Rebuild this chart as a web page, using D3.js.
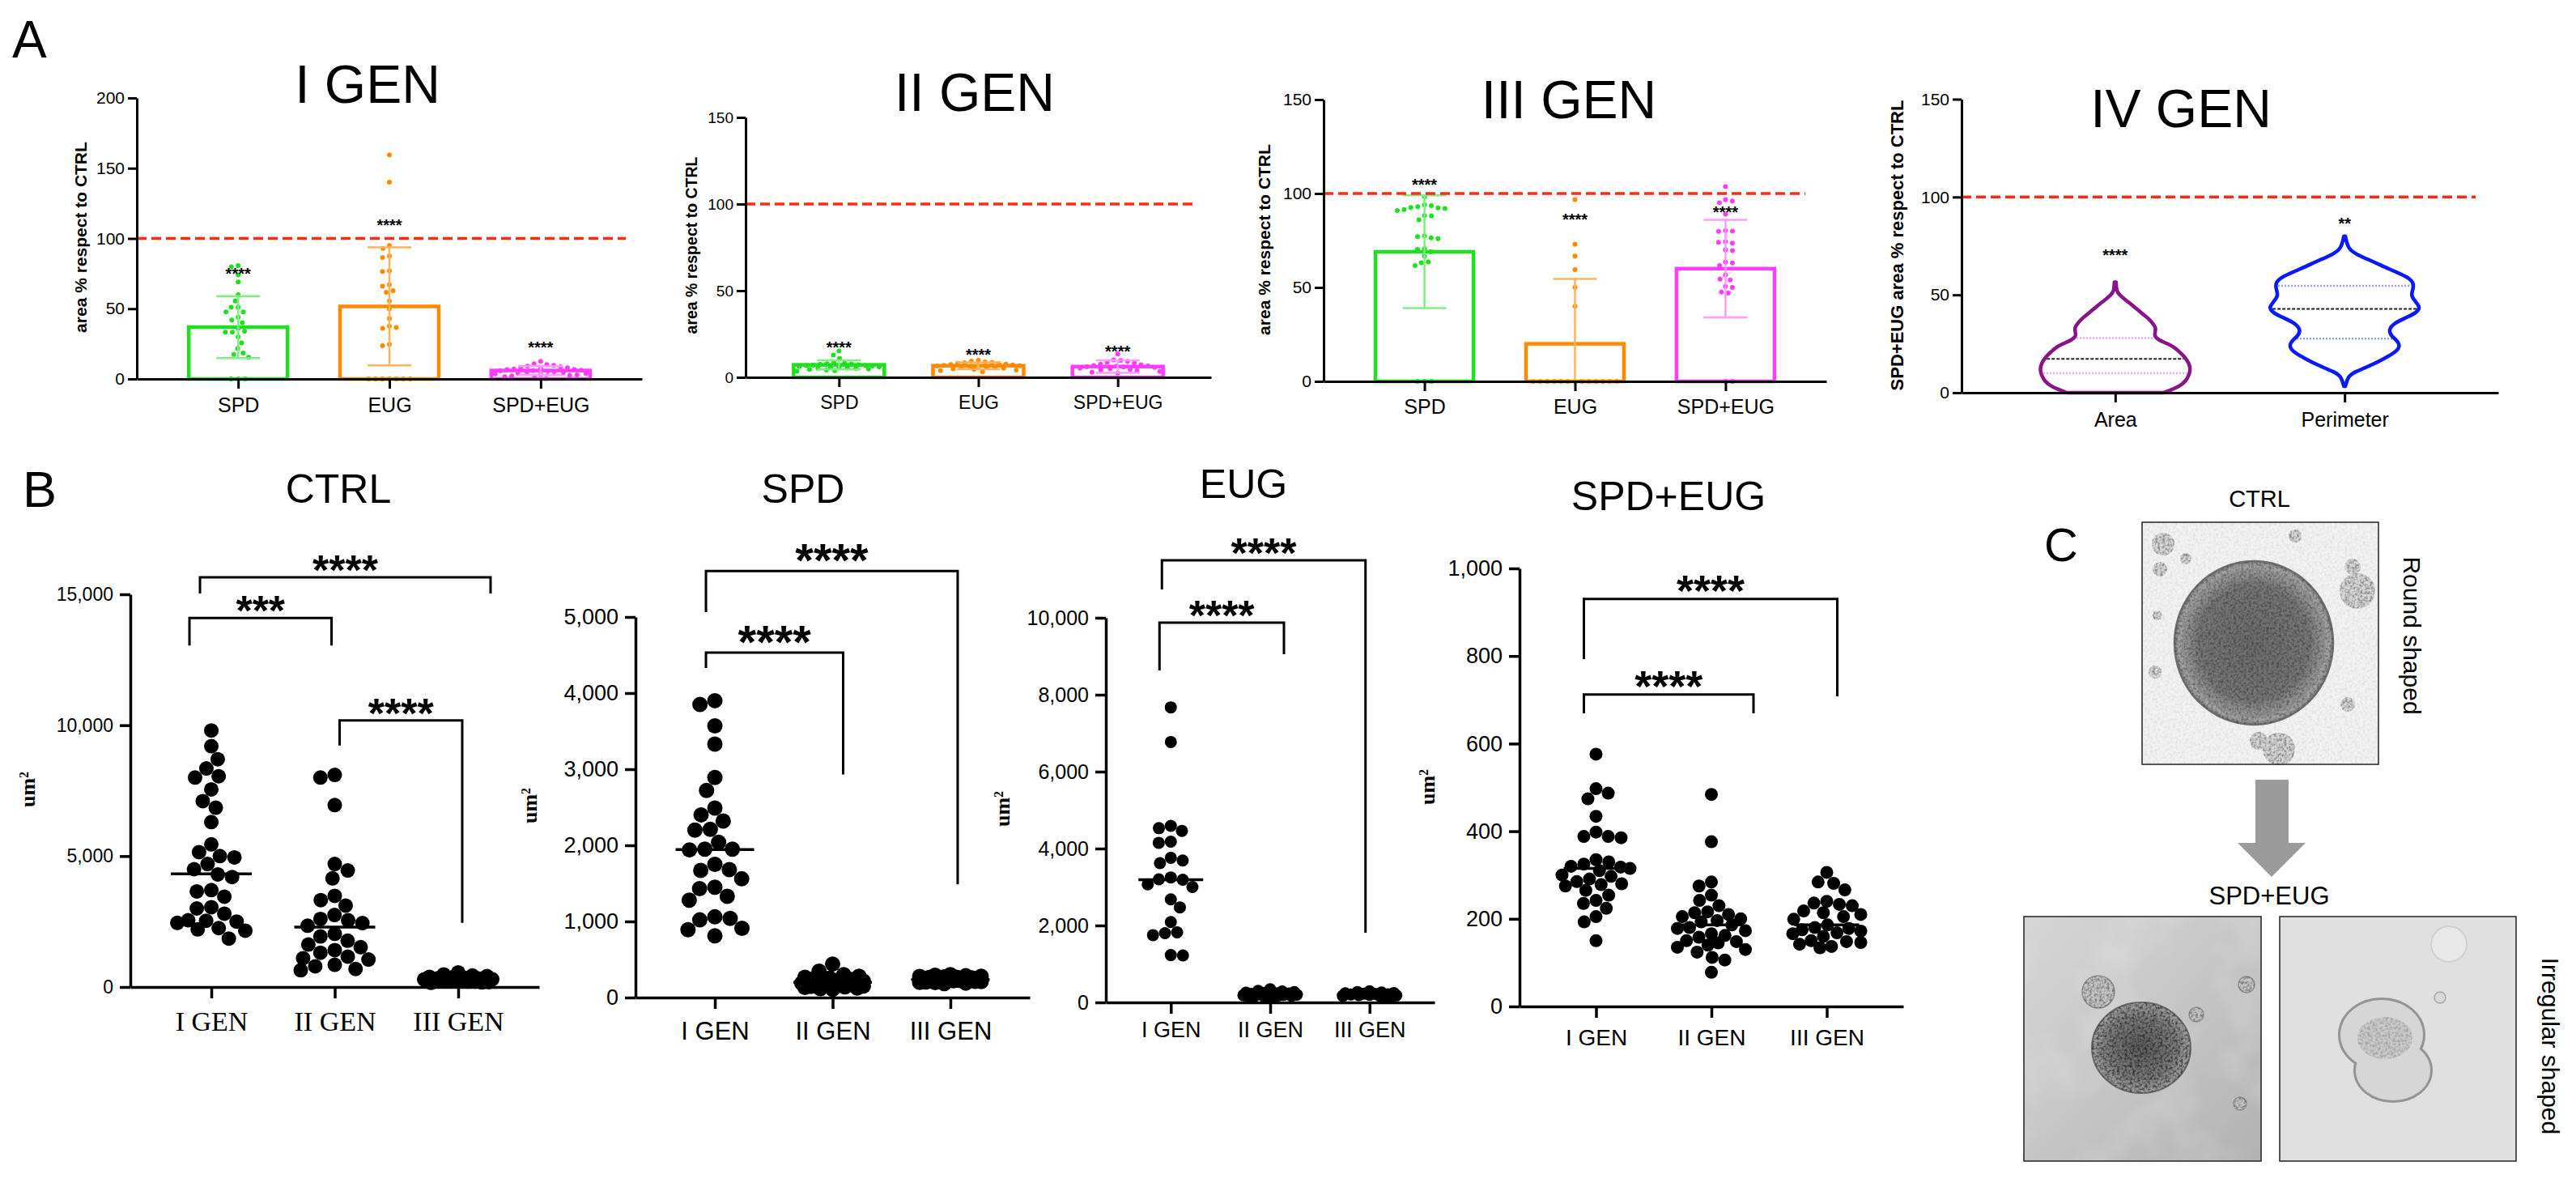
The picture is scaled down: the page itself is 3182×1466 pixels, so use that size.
<!DOCTYPE html>
<html>
<head>
<meta charset="utf-8">
<script src="https://cdn.jsdelivr.net/npm/d3@7"></script>
<style>
  html, body { margin: 0; padding: 0; background: #fff; }
  svg { display: block; font-family: "Liberation Sans", Arial, Helvetica, sans-serif; }
</style>
</head>
<body>
<div id="fig"></div>
<script>
const W = 3182, H = 1466;
const SANS = '"Liberation Sans", Arial, Helvetica, sans-serif';
const SERIF = '"Liberation Serif", "Times New Roman", Times, serif';
const RED = "#ff2a10";

// ---------------- panel A : % area vs CTRL ----------------
const treatments = ["SPD", "EUG", "SPD+EUG"];
const treatColors = ["#1ee01e", "#ff8a00", "#ff3cff"];
const treatLight = ["#80ee80", "#ffb45c", "#ff9cff"];

// I GEN
const gen1Means = [36.9, 51.6, 6.0];
const gen1Sd = [22.0, 42.0, 3.1];
const gen1Stars = [77, 112, 25];
const gen1Spd = [80.7, 79.8, 74, 69, 60, 55.5, 51, 51, 47.7, 47.7, 44, 42, 40, 36, 34, 33.3, 33.3, 30, 25.7, 21.6, 18.5, 17.5, 15.4, 0, 0, 0];
const gen1Eug = [159.5, 140, 95, 93, 87.4, 86.4, 77, 76.5, 67, 66, 62.8, 61.7, 55.5, 49.8, 43, 37.4, 36.6, 36, 24.7, 23.7, 0, 0, 0, 0, 0, 0, 0];
const gen1Combo = [12.5, 10.8, 10.2, 9.6, 9.1, 8.7, 8.2, 7.9, 7.4, 7.1, 6.8, 6.6, 6.2, 5.9, 5.7, 5.3, 5.1, 4.8, 4.4, 4.2, 3.9, 3.6, 3.2, 2.9, 2.5, 2.1, 1.6, 0.8, 0.3];

// II GEN
const gen2Means = [7.2, 6.7, 6.2];
const gen2Sd = [2.6, 2.0, 3.6];
const gen2Stars = [19, 15, 17];
const gen2Spd = [15.2, 12.8, 10.9, 8.6, 8.1, 7.8, 7.7, 7.5, 7.3, 7.0, 6.9, 6.8, 6.6, 6.3, 6.1, 5.9, 5.6, 5.4, 5.3, 5.1, 4.8, 4.5, 4.2, 3.9, 3.5];
const gen2Eug = [9.8, 9.3, 8.9, 8.6, 8.4, 8.1, 7.8, 7.6, 7.4, 7.1, 6.9, 6.6, 6.4, 6.2, 6.1, 5.8, 5.6, 5.5, 5.2, 4.9, 4.6, 4.2, 3.8, 3.2];
const gen2Combo = [13.4, 10.1, 9.7, 9.2, 8.7, 8.3, 7.6, 7.2, 6.8, 6.6, 6.4, 6.1, 5.9, 5.7, 5.3, 4.9, 4.6, 4.2, 3.8, 3.4, 2.9, 2.4];

// III GEN
const gen3Means = [69, 20, 60];
const gen3Sd = [30, 34.5, 26];
const gen3Stars = [106.5, 88, 92];
const gen3Spd = [98.3, 94, 93.5, 93, 92.6, 92.4, 92, 91.5, 91, 88.3, 88, 86, 77.5, 77, 76.4, 76, 70.6, 70.3, 69, 66.7, 63.6, 63.2, 61.6, 0, 0, 0];
const gen3Eug = [96.8, 72.9, 66.7, 59.5, 50, 40, 0, 0, 0, 0, 0, 0, 0, 0, 0, 0, 0, 0, 0];
const gen3Combo = [103.7, 96.8, 96, 95, 89, 80.3, 80, 79.8, 74.3, 74, 73.6, 70, 69.6, 63.6, 63, 61.6, 56.7, 54.4, 54, 50.5, 50, 47.5, 47, 0, 0];

// IV GEN violins (value, relative density)
const violinCats = ["Area", "Perimeter"];
const violinColors = ["#8a138a", "#0a18ff"];
const violinQuartColors = ["#e7a6e7", "#8c9cff"];
const areaV = [0, 3, 6, 9, 12, 15, 18, 21, 23, 25, 27, 29, 31, 33, 35, 38, 41, 44, 47, 50, 52, 56.5];
const areaD = [0.64, 0.85, 0.94, 0.98, 1.0, 0.98, 0.93, 0.85, 0.79, 0.7, 0.57, 0.52, 0.53, 0.54, 0.51, 0.44, 0.34, 0.25, 0.15, 0.055, 0.016, 0.011];
const perimV = [3.3, 8.4, 10.7, 13.6, 17.3, 21, 24, 27, 29, 32, 35.8, 38.8, 41.7, 44, 47, 49.9, 52.8, 56.5, 59.5, 63, 67, 70.6, 73.5, 80];
const perimD = [0.01, 0.045, 0.14, 0.33, 0.52, 0.69, 0.74, 0.69, 0.62, 0.58, 0.66, 0.85, 0.98, 1.0, 0.93, 0.88, 0.91, 0.92, 0.82, 0.6, 0.38, 0.16, 0.045, 0.01];
const areaQuart = [9.9, 17.3, 27.9];
const perimQuart = [27.6, 42.8, 54.6];
const gen4Stars = [72, 88];
const gen4StarText = ["****", "**"];

// ---------------- panel B : um2 per generation ----------------
const gens = ["I GEN", "II GEN", "III GEN"];

const ctrlGen1 = [9800, 9200, 8700, 8350, 8050, 8000, 7550, 7100, 6850, 6300, 5450, 5150, 5000, 4950, 4700, 4500, 4300, 4200, 3700, 3650, 3450, 3050, 3000, 2800, 2550, 2500, 2530, 2450, 2200, 2250, 2150, 1850];
const ctrlGen2 = [8100, 8000, 6950, 4700, 4450, 4150, 3480, 3320, 3110, 2750, 2600, 2550, 2440, 2340, 2030, 1930, 1770, 1620, 1520, 1410, 1310, 1160, 1100, 1050, 850, 790, 690, 640];
const ctrlGen3 = [560, 480, 440, 415, 390, 365, 350, 330, 325, 305, 300, 290, 285, 270, 268, 255, 250, 245, 238, 230, 222, 210, 205, 188, 176, 160];
const ctrlMedians = [4320, 2290, 280];

const spdGen1 = [3900, 3850, 3570, 3330, 2890, 2720, 2490, 2400, 2320, 2210, 2200, 2040, 1950, 1950, 1940, 1750, 1680, 1670, 1560, 1450, 1430, 1330, 1280, 1060, 1040, 1020, 910, 890, 810];
const spdGen2 = [440, 345, 300, 280, 265, 255, 245, 238, 230, 222, 215, 208, 200, 195, 188, 182, 176, 170, 164, 158, 152, 146, 140, 132, 125, 118, 110];
const spdGen3 = [300, 292, 286, 280, 276, 270, 266, 262, 258, 255, 250, 248, 244, 240, 238, 234, 230, 226, 224, 220, 214, 210, 204, 200, 196, 190, 184];
const spdMedians = [1945, 200, 238];

const eugGen1 = [7670, 6770, 4590, 4530, 4460, 4180, 4150, 3760, 3690, 3620, 3250, 3200, 3190, 3070, 3000, 2680, 2470, 2090, 1820, 1800, 1750, 1230, 1220];
const eugGen2 = [340, 300, 282, 266, 255, 246, 238, 230, 222, 215, 208, 200, 194, 186, 178, 170, 160, 150, 138, 120];
const eugGen3 = [290, 270, 256, 244, 236, 228, 220, 213, 206, 198, 190, 182, 172, 162, 150, 140];
const eugMedians = [3190, 205, 205];

const comboGen1 = [576, 497, 487, 474, 434, 398, 388, 388, 385, 335, 330, 325, 320, 318, 315, 310, 300, 297, 291, 285, 280, 278, 275, 265, 254, 242, 235, 224, 205, 193, 150];
const comboGen2 = [484, 376, 284, 275, 254, 242, 230, 216, 214, 210, 205, 200, 196, 193, 186, 180, 178, 173, 166, 162, 158, 150, 148, 145, 140, 135, 130, 124, 112, 106, 78];
const comboGen3 = [306, 284, 281, 266, 240, 236, 233, 230, 218, 214, 210, 205, 199, 186, 180, 178, 175, 172, 168, 166, 160, 150, 148, 146, 142, 137, 134];
const comboMedians = [315, 186, 186];

// ------------------------------------------------------------
const svg = d3.select("#fig").append("svg")
  .attr("width", W).attr("height", H).attr("viewBox", `0 0 ${W} ${H}`);
svg.append("rect").attr("width", W).attr("height", H).attr("fill", "#fff");
const defs = svg.append("defs");

// greedy beeswarm: deterministic horizontal offsets so dots don't overlap
function swarm(values, y, r, maxHalf) {
  const minD = 2 * r;
  const pts = values.map(v => ({ v, py: y(v) })).sort((a, b) => a.py - b.py);
  const placed = [];
  pts.forEach((p, i) => {
    const cands = [0];
    placed.forEach(q => {
      const dy = p.py - q.py;
      if (Math.abs(dy) < minD) {
        const dx = Math.sqrt(minD * minD - dy * dy);
        cands.push(q.dx + dx, q.dx - dx);
      }
    });
    const ok = cands.filter(c => Math.abs(c) <= maxHalf + 1e-6 &&
      placed.every(q => Math.hypot(c - q.dx, p.py - q.py) >= minD - 1e-6));
    if (ok.length) {
      const s = i % 2 ? 1 : -1;
      ok.sort((a, b) => Math.abs(a) - Math.abs(b) || (a - b) * s);
      p.dx = ok[0];
    } else {
      let best = 0, bestD = -1;
      for (let k = 0; k <= 20; k++) {
        const c = -maxHalf + k * maxHalf / 10;
        const d = d3.min(placed, q => Math.hypot(c - q.dx, p.py - q.py));
        if (d > bestD) { bestD = d; best = c; }
      }
      p.dx = best;
    }
    placed.push(p);
  });
  return placed;
}

function styleAxis(sel, fontSize, width, family) {
  sel.select(".domain").attr("stroke", "#000").attr("stroke-width", width);
  sel.selectAll(".tick line").attr("stroke", "#000").attr("stroke-width", width);
  sel.selectAll(".tick text").attr("fill", "#000").attr("font-size", fontSize)
    .attr("font-family", family || SANS);
}

function yTitle(g, txt, x, y, size) {
  g.append("text").attr("transform", `translate(${x},${y}) rotate(-90)`)
    .attr("text-anchor", "middle").attr("dominant-baseline", "central")
    .attr("font-size", size).attr("font-weight", "bold").text(txt);
}

// ---------------- panel A bar charts ----------------
function barPanel(cfg) {
  const g = svg.append("g");
  const y = d3.scaleLinear().domain([0, cfg.yMax]).range([cfg.bottom, cfg.top]);
  const x = d3.scalePoint().domain(treatments).range([cfg.left, cfg.right]).padding(0.67);

  g.append("text").attr("x", cfg.titleX).attr("y", cfg.titleY).attr("text-anchor", "middle")
    .attr("font-size", 66).text(cfg.title);

  // bars
  g.selectAll("rect.bar").data(treatments).join("rect")
    .attr("x", d => x(d) - cfg.barW / 2).attr("width", cfg.barW)
    .attr("y", (d, i) => y(cfg.means[i])).attr("height", (d, i) => y(0) - y(cfg.means[i]))
    .attr("fill", "none").attr("stroke", (d, i) => treatColors[i]).attr("stroke-width", 4.5);

  // individual points
  cfg.points.forEach((vals, i) => {
    const pts = swarm(vals, y, 4.3, cfg.spread);
    g.append("g").selectAll("circle").data(pts).join("circle")
      .attr("cx", p => x(treatments[i]) + p.dx).attr("cy", p => p.py).attr("r", 3)
      .attr("fill", treatColors[i]);
  });

  // error bars (mean ± SD)
  treatments.forEach((t, i) => {
    const lo = Math.max(0, cfg.means[i] - cfg.sd[i]), hi = cfg.means[i] + cfg.sd[i];
    const eg = g.append("g").attr("stroke", treatLight[i]).attr("stroke-width", 2.5);
    eg.append("line").attr("x1", x(t)).attr("x2", x(t)).attr("y1", y(lo)).attr("y2", y(hi));
    eg.append("line").attr("x1", x(t) - 27).attr("x2", x(t) + 27).attr("y1", y(hi)).attr("y2", y(hi));
    if (lo > 0) eg.append("line").attr("x1", x(t) - 27).attr("x2", x(t) + 27).attr("y1", y(lo)).attr("y2", y(lo));
  });

  // 100 % reference
  g.append("line").attr("x1", cfg.left).attr("x2", cfg.redEnd).attr("y1", y(100)).attr("y2", y(100))
    .attr("stroke", RED).attr("stroke-width", 3.5).attr("stroke-dasharray", "12,6");

  // significance
  g.selectAll("text.star").data(treatments).join("text")
    .attr("x", d => x(d)).attr("y", (d, i) => y(cfg.stars[i]) + 11)
    .attr("text-anchor", "middle").attr("font-size", 20).attr("font-weight", "bold").text("****");

  const ya = g.append("g").attr("transform", `translate(${cfg.left},0)`)
    .call(d3.axisLeft(y).tickValues(cfg.ticks).tickSize(11).tickSizeOuter(0).tickPadding(4));
  styleAxis(ya, cfg.tickFont, 3);
  const xa = g.append("g").attr("transform", `translate(0,${cfg.bottom})`)
    .call(d3.axisBottom(x).tickSize(12).tickSizeOuter(0).tickPadding(cfg.xPad));
  styleAxis(xa, cfg.xFont, 3);

  yTitle(g, cfg.yLabel, cfg.yLabelX, cfg.yLabelY, cfg.yLabelSize);
}

barPanel({ title: "I GEN", titleX: 454, titleY: 127, left: 169, right: 793, top: 121, bottom: 468,
  yMax: 200, ticks: [0, 50, 100, 150, 200], barW: 122, redEnd: 773, spread: 56,
  means: gen1Means, sd: gen1Sd, stars: gen1Stars, points: [gen1Spd, gen1Eug, gen1Combo],
  tickFont: 21, xFont: 25, xPad: 11, yLabel: "area % respect to CTRL", yLabelX: 99, yLabelY: 293, yLabelSize: 21 });

barPanel({ title: "II GEN", titleX: 1204, titleY: 137, left: 921, right: 1496, top: 145, bottom: 466,
  yMax: 150, ticks: [0, 50, 100, 150], barW: 112, redEnd: 1473, spread: 52,
  means: gen2Means, sd: gen2Sd, stars: gen2Stars, points: [gen2Spd, gen2Eug, gen2Combo],
  tickFont: 19, xFont: 23, xPad: 11, yLabel: "area % respect to CTRL", yLabelX: 854, yLabelY: 303, yLabelSize: 19.5 });

barPanel({ title: "III GEN", titleX: 1938, titleY: 146, left: 1635, right: 2256, top: 123, bottom: 471,
  yMax: 150, ticks: [0, 50, 100, 150], barW: 121, redEnd: 2230, spread: 56,
  means: gen3Means, sd: gen3Sd, stars: gen3Stars, points: [gen3Spd, gen3Eug, gen3Combo],
  tickFont: 21, xFont: 25, xPad: 10, yLabel: "area % respect to CTRL", yLabelX: 1561, yLabelY: 296, yLabelSize: 21 });

// ---------------- panel A IV GEN violins ----------------
(function violinPanel() {
  const g = svg.append("g");
  const cfg = { left: 2423, right: 3086, top: 122.5, bottom: 485 };
  const y = d3.scaleLinear().domain([0, 150]).range([cfg.bottom, cfg.top]);
  const x = d3.scalePoint().domain(violinCats).range([cfg.left, cfg.right]).padding(0.67);
  const w = d3.scaleLinear().domain([0, 1]).range([0, 93]);

  g.append("text").attr("x", 2694).attr("y", 157).attr("text-anchor", "middle")
    .attr("font-size", 66).text("IV GEN");

  g.append("line").attr("x1", cfg.left).attr("x2", 3058).attr("y1", y(100)).attr("y2", y(100))
    .attr("stroke", RED).attr("stroke-width", 3.5).attr("stroke-dasharray", "12,6");

  const profiles = [[areaV, areaD], [perimV, perimD]];
  const quarts = [areaQuart, perimQuart];
  profiles.forEach(([vs, ds], i) => {
    const cx = x(violinCats[i]);
    const dens = d3.scaleLinear().domain(vs).range(ds).clamp(true);
    const rows = vs.map((v, k) => ({ v, d: ds[k] }));
    const area = d3.area().curve(d3.curveBasis)
      .y(d => y(d.v)).x0(d => cx - w(d.d)).x1(d => cx + w(d.d));
    quarts[i].forEach((q, k) => {
      const hw = w(dens(q)) - 3;
      g.append("line").attr("x1", cx - hw).attr("x2", cx + hw).attr("y1", y(q)).attr("y2", y(q))
        .attr("stroke", k === 1 ? "#222" : violinQuartColors[i])
        .attr("stroke-width", k === 1 ? 2 : 2.5).attr("stroke-dasharray", k === 1 ? "4,2" : "2,2");
    });
    g.append("path").datum(rows).attr("d", area).attr("fill", "none")
      .attr("stroke", violinColors[i]).attr("stroke-width", 4.5).attr("stroke-linejoin", "round");
    g.append("text").attr("x", cx).attr("y", y(gen4Stars[i]) + 11).attr("text-anchor", "middle")
      .attr("font-size", 20).attr("font-weight", "bold").text(gen4StarText[i]);
  });

  const ya = g.append("g").attr("transform", `translate(${cfg.left},0)`)
    .call(d3.axisLeft(y).tickValues([0, 50, 100, 150]).tickSize(11).tickSizeOuter(0).tickPadding(4));
  styleAxis(ya, 21, 3);
  const xa = g.append("g").attr("transform", `translate(0,${cfg.bottom})`)
    .call(d3.axisBottom(x).tickSize(12).tickSizeOuter(0).tickPadding(12));
  styleAxis(xa, 25, 3);
  yTitle(g, "SPD+EUG area % respect to CTRL", 2343, 303, 22);
})();

svg.append("text").attr("x", 15).attr("y", 71).attr("font-size", 64).text("A");

// ---------------- panel B dot plots ----------------
function dotPanel(cfg) {
  const g = svg.append("g");
  const y = d3.scaleLinear().domain([0, cfg.yMax]).range([cfg.y0, cfg.yTop]);
  const x = d3.scalePoint().domain(gens).range([cfg.left, cfg.right]).padding(cfg.pad).align(0.5);

  g.append("text").attr("x", cfg.titleX).attr("y", cfg.titleY).attr("text-anchor", "middle")
    .attr("font-size", 50).text(cfg.title);

  cfg.series.forEach((vals, i) => {
    const cx = x(gens[i]);
    const pts = swarm(vals, y, cfg.r, cfg.spread);
    g.append("g").selectAll("circle").data(pts).join("circle")
      .attr("cx", p => cx + p.dx).attr("cy", p => p.py).attr("r", cfg.r).attr("fill", "#000");
    g.append("line").attr("x1", cx - cfg.medW / 2).attr("x2", cx + cfg.medW / 2)
      .attr("y1", y(cfg.medians[i])).attr("y2", y(cfg.medians[i]))
      .attr("stroke", "#000").attr("stroke-width", 3.5);
  });

  cfg.brackets.forEach(b => {
    const xa = x(b.a) + b.dxa, xb = x(b.b) + b.dxb;
    g.append("path").attr("d", `M${xa},${y(b.legA)}V${y(b.y)}H${xb}V${y(b.legB)}`)
      .attr("fill", "none").attr("stroke", "#000").attr("stroke-width", 3);
    g.append("text").attr("x", (xa + xb) / 2).attr("y", y(b.y) + cfg.starBase)
      .attr("text-anchor", "middle").attr("font-size", cfg.starFont).attr("font-weight", "bold")
      .text(b.label);
  });

  const ya = g.append("g").attr("transform", `translate(${cfg.left},0)`)
    .call(d3.axisLeft(y).tickValues(cfg.ticks).tickSize(13).tickSizeOuter(0).tickPadding(8)
      .tickFormat(d3.format(",")));
  styleAxis(ya, cfg.tickFont, 3.5);
  const xa = g.append("g").attr("transform", `translate(0,${cfg.y0})`)
    .call(d3.axisBottom(x).tickSize(14).tickSizeOuter(0).tickPadding(cfg.xPad));
  styleAxis(xa, cfg.xFont, 3.5, cfg.xFamily);

  const t = g.append("text").attr("transform", `translate(${cfg.ylabX},${cfg.ylabY}) rotate(-90)`)
    .attr("text-anchor", "middle").attr("font-family", SERIF).attr("font-weight", "bold")
    .attr("font-size", 26);
  t.append("tspan").text("um");
  t.append("tspan").attr("baseline-shift", "super").attr("font-size", 16).text("2");
}

dotPanel({ title: "CTRL", titleX: 418, titleY: 621, left: 161, right: 666, y0: 1219, yTop: 734,
  yMax: 15000, ticks: [0, 5000, 10000, 15000], tickFont: 23, pad: 0.656,
  xFont: 34, xFamily: SERIF, xPad: 16, r: 9, spread: 42, medW: 100,
  series: [ctrlGen1, ctrlGen2, ctrlGen3], medians: ctrlMedians, ylabX: 43, ylabY: 975,
  starFont: 52, starBase: 9,
  brackets: [
    { a: "I GEN", b: "II GEN", dxa: -27, dxb: -4, y: 14099, legA: 13043, legB: 13043, label: "***" },
    { a: "I GEN", b: "III GEN", dxa: -14, dxb: 40, y: 15652, legA: 15031, legB: 15031, label: "****" },
    { a: "II GEN", b: "III GEN", dxa: 6, dxb: 5, y: 10186, legA: 9224, legB: 2453, label: "****" }
  ] });

dotPanel({ title: "SPD", titleX: 992, titleY: 621, left: 785, right: 1272, y0: 1232, yTop: 762,
  yMax: 5000, ticks: [0, 1000, 2000, 3000, 4000, 5000], tickFont: 27, pad: 0.674,
  xFont: 31, xPad: 16, r: 9.5, spread: 38, medW: 97,
  series: [spdGen1, spdGen2, spdGen3], medians: spdMedians, ylabX: 663, ylabY: 995,
  starFont: 58, starBase: 7,
  brackets: [
    { a: "I GEN", b: "II GEN", dxa: -11, dxb: 13, y: 4533, legA: 4331, legB: 2930, label: "****" },
    { a: "I GEN", b: "III GEN", dxa: -11, dxb: 9, y: 5605, legA: 5064, legB: 1486, label: "****" }
  ] });

dotPanel({ title: "EUG", titleX: 1536, titleY: 615, left: 1366, right: 1772, y0: 1238, yTop: 763,
  yMax: 10000, ticks: [0, 2000, 4000, 6000, 8000, 10000], tickFont: 25, pad: 0.654,
  xFont: 27, xPad: 10, r: 7.5, spread: 33, medW: 80,
  series: [eugGen1, eugGen2, eugGen3], medians: eugMedians, ylabX: 1247, ylabY: 999,
  starFont: 52, starBase: 9,
  brackets: [
    { a: "I GEN", b: "II GEN", dxa: -14, dxb: 17, y: 9874, legA: 8632, legB: 9053, label: "****" },
    { a: "I GEN", b: "III GEN", dxa: -11, dxb: -5, y: 11495, legA: 10737, legB: 1811, label: "****" }
  ] });

dotPanel({ title: "SPD+EUG", titleX: 2061, titleY: 630, left: 1877, right: 2351, y0: 1243, yTop: 702,
  yMax: 1000, ticks: [0, 200, 400, 600, 800, 1000], tickFont: 27, pad: 0.663,
  xFont: 28, xPad: 14, r: 8, spread: 42, medW: 80,
  series: [comboGen1, comboGen2, comboGen3], medians: comboMedians, ylabX: 1772, ylabY: 972,
  starFont: 54, starBase: 8,
  brackets: [
    { a: "I GEN", b: "II GEN", dxa: -15, dxb: 52, y: 712, legA: 669, legB: 669, label: "****" },
    { a: "I GEN", b: "III GEN", dxa: -15, dxb: 13, y: 930, legA: 793, legB: 708, label: "****" }
  ] });

svg.append("text").attr("x", 28).attr("y", 626).attr("font-size", 63).text("B");

// ---------------- panel C micrographs (drawn impression) ----------------
const grain = defs.append("filter").attr("id", "grain")
  .attr("x", 0).attr("y", 0).attr("width", 1).attr("height", 1);
grain.append("feTurbulence").attr("type", "fractalNoise").attr("baseFrequency", 0.32)
  .attr("numOctaves", 2).attr("seed", 4);
grain.append("feColorMatrix").attr("type", "matrix")
  .attr("values", "0 0 0 0 0  0 0 0 0 0  0 0 0 0 0  2.4 0 0 0 -0.95");
grain.append("feComposite").attr("in2", "SourceGraphic").attr("operator", "in");

const mottle = defs.append("filter").attr("id", "mottle")
  .attr("x", 0).attr("y", 0).attr("width", 1).attr("height", 1);
mottle.append("feTurbulence").attr("type", "fractalNoise").attr("baseFrequency", 0.012)
  .attr("numOctaves", 3).attr("seed", 9);
mottle.append("feColorMatrix").attr("type", "matrix")
  .attr("values", "0 0 0 0 1  0 0 0 0 1  0 0 0 0 1  1.6 0 0 0 -0.7");
mottle.append("feComposite").attr("in2", "SourceGraphic").attr("operator", "in");

const sphereGrad = defs.append("radialGradient").attr("id", "sphereCtrl");
[[0, "#6c6c6c"], [0.7, "#767676"], [0.86, "#949494"], [0.95, "#a4a4a4"], [1, "#7d7d7d"]]
  .forEach(([o, c]) => sphereGrad.append("stop").attr("offset", o).attr("stop-color", c));
const sphereGrad2 = defs.append("radialGradient").attr("id", "sphereTreat");
[[0, "#5c5c5c"], [0.7, "#7c7c7c"], [1, "#a0a0a0"]]
  .forEach(([o, c]) => sphereGrad2.append("stop").attr("offset", o).attr("stop-color", c));
const bgGrad = defs.append("linearGradient").attr("id", "bgTreat")
  .attr("x1", 0).attr("y1", 0).attr("x2", 1).attr("y2", 1);
[[0, "#d6d6d6"], [0.45, "#c8c8c8"], [1, "#b2b2b2"]]
  .forEach(([o, c]) => bgGrad.append("stop").attr("offset", o).attr("stop-color", c));

const cg = svg.append("g");
function textured(sel, opacity, filter) {
  sel.clone().attr("fill", "#000").attr("stroke", "none")
    .attr("filter", `url(#${filter || "grain"})`).attr("opacity", opacity);
}

// CTRL image
const ctrlBg = cg.append("rect").attr("x", 2646).attr("y", 645).attr("width", 292).attr("height", 299).attr("fill", "#f2f2f2");
textured(ctrlBg, 0.06);
[[2672, 672, 14], [2668, 703, 9], [2700, 690, 7], [2912, 730, 22], [2906, 700, 10], [2815, 925, 20],
 [2790, 915, 11], [2662, 830, 8], [2835, 662, 8], [2665, 760, 6], [2900, 870, 9]]
  .forEach(([cx, cy, r]) => {
    const c = cg.append("circle").attr("cx", cx).attr("cy", cy).attr("r", r).attr("fill", "#d6d6d6");
    textured(c, 0.4);
  });
const ctrlSphere = cg.append("ellipse").attr("cx", 2784).attr("cy", 794).attr("rx", 98).attr("ry", 101)
  .attr("fill", "url(#sphereCtrl)").attr("stroke", "#707070").attr("stroke-width", 2.5);
textured(ctrlSphere, 0.35);
cg.append("ellipse").attr("cx", 2784).attr("cy", 794).attr("rx", 87).attr("ry", 90)
  .attr("fill", "none").attr("stroke", "#8a8a8a").attr("stroke-width", 1.5);
cg.append("rect").attr("x", 2646).attr("y", 645).attr("width", 292).attr("height", 299)
  .attr("fill", "none").attr("stroke", "#222").attr("stroke-width", 1.5);

// arrow
cg.append("path").attr("d", "M2786,963H2827V1041H2848L2806,1083L2764,1041H2786Z").attr("fill", "#9b9b9b");

// SPD+EUG image 1
const bg1 = cg.append("rect").attr("x", 2500).attr("y", 1132).attr("width", 293).attr("height", 302).attr("fill", "url(#bgTreat)");
textured(bg1, 0.35, "mottle");
[[2592, 1225, 20], [2775, 1216, 10], [2713, 1253, 9], [2767, 1363, 8]].forEach(([cx, cy, r]) => {
  const c = cg.append("circle").attr("cx", cx).attr("cy", cy).attr("r", r)
    .attr("fill", "#c4c4c4").attr("stroke", "#909090").attr("stroke-width", 1.5);
  textured(c, 0.4);
});
const treatSphere = cg.append("ellipse").attr("cx", 2645).attr("cy", 1294).attr("rx", 61).attr("ry", 56)
  .attr("fill", "url(#sphereTreat)").attr("stroke", "#6a6a6a").attr("stroke-width", 2);
textured(treatSphere, 0.6);
cg.append("rect").attr("x", 2500).attr("y", 1132).attr("width", 293).attr("height", 302)
  .attr("fill", "none").attr("stroke", "#222").attr("stroke-width", 1.5);

// SPD+EUG image 2
cg.append("rect").attr("x", 2816).attr("y", 1132).attr("width", 292).attr("height", 302).attr("fill", "#e0e0e0");
cg.append("circle").attr("cx", 3025).attr("cy", 1166).attr("r", 22).attr("fill", "#e8e8e8")
  .attr("stroke", "#d0d0d0").attr("stroke-width", 2);
cg.append("circle").attr("cx", 3014).attr("cy", 1232).attr("r", 7).attr("fill", "#d8d8d8")
  .attr("stroke", "#a8a8a8").attr("stroke-width", 1.5);
const lobeShapes = [[2942, 1278, 52, 44], [2956, 1322, 47, 38]];
// outline of the merged organoid, then fills on top to hide the inner seam
lobeShapes.forEach(([cx, cy, rx, ry]) => cg.append("ellipse").attr("cx", cx).attr("cy", cy)
  .attr("rx", rx).attr("ry", ry).attr("fill", "none").attr("stroke", "#959595").attr("stroke-width", 4));
lobeShapes.forEach(([cx, cy, rx, ry]) => cg.append("ellipse").attr("cx", cx).attr("cy", cy)
  .attr("rx", rx - 1).attr("ry", ry - 1).attr("fill", "#d6d6d6"));
const core = cg.append("ellipse").attr("cx", 2946).attr("cy", 1282).attr("rx", 34).attr("ry", 26)
  .attr("fill", "#c2c2c2").attr("opacity", 0.6);
textured(core, 0.22);
cg.append("rect").attr("x", 2816).attr("y", 1132).attr("width", 292).attr("height", 302)
  .attr("fill", "none").attr("stroke", "#222").attr("stroke-width", 1.5);

cg.append("text").attr("x", 2791).attr("y", 626).attr("text-anchor", "middle").attr("font-size", 29).text("CTRL");
cg.append("text").attr("x", 2803).attr("y", 1117).attr("text-anchor", "middle").attr("font-size", 31).text("SPD+EUG");
cg.append("text").attr("transform", "translate(2969,785) rotate(90)").attr("text-anchor", "middle")
  .attr("font-size", 30).text("Round shaped");
cg.append("text").attr("transform", "translate(3140,1292) rotate(90)").attr("text-anchor", "middle")
  .attr("font-size", 30).text("Irregular shaped");
svg.append("text").attr("x", 2525).attr("y", 693).attr("font-size", 58).text("C");
</script>
</body>
</html>
